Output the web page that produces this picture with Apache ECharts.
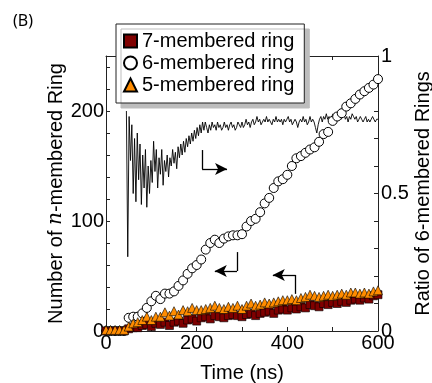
<!DOCTYPE html>
<html>
<head>
<meta charset="utf-8">
<script src="https://cdn.jsdelivr.net/npm/echarts@6/dist/echarts.min.js"></script>
<style>
  html, body { margin: 0; padding: 0; background: #fff; }
  #chart { width: 432px; height: 383px; }
</style>
</head>
<body>
<div id="chart"></div>
<script>
// simulation time (ns) for the ring counts
const times = [0, 10, 20, 30, 40, 50, 60, 70, 80, 90, 100, 110, 120, 130, 140, 150, 160, 170, 180, 190,
  200, 210, 220, 230, 240, 250, 260, 270, 280, 290, 300, 310, 320, 330, 340, 350, 360, 370, 380, 390,
  400, 410, 420, 430, 440, 450, 460, 470, 480, 490, 500, 510, 520, 530, 540, 550, 560, 570, 580, 590, 600];

const ring7 = [0, 0, 0, 0, 0, 2, 3, 3, 5, 6, 4, 7, 6, 8, 5, 8, 9, 7, 10, 11,
  9, 12, 13, 11, 14, 13, 12, 14, 15, 14, 13, 15, 16, 14, 16, 17, 18, 16, 19, 20,
  19, 21, 20, 22, 21, 24, 23, 22, 25, 24, 26, 25, 27, 26, 28, 29, 28, 30, 29, 32, 33];

const ring6 = [0, 0, 0, 0, 0, 12, 13, 13, 16, 21, 27, 32, 29, 34, 34, 36, 41, 46, 52, 57,
  60, 65, 74, 80, 83, 80, 84, 86, 87, 87, 88, 95, 100, 102, 108, 116, 121, 130, 136, 138,
  142, 150, 157, 159, 162, 165, 167, 172, 179, 181, 191, 195, 198, 204, 207, 211, 215, 218, 221, 224, 229];

const ring5 = [1, 1, 1, 1, 1, 4, 7, 8, 10, 13, 10, 13, 13, 17, 14, 18, 15, 19, 18, 21,
  19, 19, 20, 21, 23, 21, 20, 22, 21, 23, 20, 23, 25, 23, 24, 26, 25, 26, 27, 28,
  28, 29, 28, 30, 31, 33, 32, 31, 32, 33, 32, 33, 34, 33, 35, 35, 34, 35, 34, 36, 37];

// ratio of 6-membered rings, sampled every 3 ns from 45 ns
const ratioStart = 45;
const ratioStep = 3;
const ratio6 = [
  0.80, 0.27, 0.78, 0.62, 0.75, 0.50, 0.70, 0.47, 0.72, 0.55, 0.68, 0.46, 0.64, 0.52, 0.66, 0.45,
  0.60, 0.50, 0.62, 0.54, 0.69, 0.58, 0.66, 0.52, 0.63, 0.57, 0.66, 0.53, 0.62, 0.58, 0.64, 0.56,
  0.63, 0.60, 0.66, 0.61, 0.65, 0.59, 0.67, 0.63, 0.68, 0.64, 0.69, 0.65, 0.70, 0.67, 0.71, 0.68,
  0.72, 0.69, 0.73, 0.70, 0.74, 0.71, 0.75, 0.72, 0.76, 0.73, 0.76, 0.74, 0.72, 0.75, 0.73, 0.76,
  0.74, 0.75, 0.73, 0.76, 0.74, 0.75, 0.73, 0.74, 0.76, 0.74, 0.75, 0.73, 0.75, 0.76, 0.74, 0.75,
  0.73, 0.74, 0.76, 0.75, 0.74, 0.76, 0.74, 0.75, 0.77, 0.75, 0.76, 0.74, 0.76, 0.77, 0.75, 0.76,
  0.78, 0.76, 0.77, 0.75, 0.76, 0.77, 0.76, 0.78, 0.76, 0.77, 0.76, 0.75, 0.77, 0.76, 0.78, 0.76,
  0.77, 0.76, 0.77, 0.75, 0.77, 0.76, 0.77, 0.78, 0.76, 0.77, 0.75, 0.76, 0.77, 0.76, 0.74, 0.76,
  0.77, 0.76, 0.78, 0.76, 0.77, 0.75, 0.76, 0.78, 0.76, 0.77, 0.76, 0.74, 0.72, 0.75, 0.77, 0.78,
  0.76, 0.78, 0.77, 0.79, 0.77, 0.78, 0.76, 0.78, 0.79, 0.77, 0.78, 0.77, 0.79, 0.78, 0.77, 0.78,
  0.79, 0.77, 0.78, 0.76, 0.78, 0.77, 0.79, 0.78, 0.77, 0.78, 0.76, 0.77, 0.78, 0.77, 0.76, 0.77,
  0.78, 0.76, 0.77, 0.76, 0.77, 0.78, 0.77, 0.76, 0.77, 0.77];

// annotation arrows in (time, ratio) coordinates: [x, yStart, yCorner, arrow tip x]
const arrows = [
  [212, 0.658, 0.589, 267],
  [289, 0.287, 0.218, 240],
  [417, 0.135, 0.204, 368]
];

const FONT = 'Liberation Sans, Arial, sans-serif';
const pair = (vals) => vals.map((v, i) => [times[i], v]);
const ratioData = ratio6.map((v, i) => [ratioStart + i * ratioStep, v]);

const arrowLines = [];
arrows.forEach(([x, yTop, yBot, tip]) => {
  arrowLines.push([{ coord: [x, yTop], symbol: 'none' }, { coord: [x, yBot], symbol: 'none' }]);
  arrowLines.push([{ coord: [x, yBot], symbol: 'none' }, { coord: [tip, yBot], symbol: 'arrow' }]);
});

const chart = echarts.init(document.getElementById('chart'), null, { renderer: 'canvas' });

const axisLineStyle = { color: '#222', width: 1 };

chart.setOption({
  animation: false,
  backgroundColor: '#fff',
  title: {
    text: '(B)',
    left: 8,
    top: 8,
    textStyle: { fontSize: 16, fontWeight: 'normal', color: '#000', fontFamily: 'Noto Sans, sans-serif' }
  },
  grid: { left: 106, right: 54, top: 56, bottom: 52, outerBoundsMode: 'none', containLabel: false },
  legend: {
    orient: 'vertical',
    left: 116,
    top: 24,
    backgroundColor: '#fff',
    borderColor: '#222',
    borderWidth: 1,
    padding: [7, 10, 8, 7],
    itemGap: 2,
    itemWidth: 13,
    itemHeight: 13,
    shadowColor: '#bdbdbd',
    shadowOffsetX: 5,
    shadowOffsetY: 5,
    shadowBlur: 0,
    textStyle: { fontSize: 20, color: '#000', fontFamily: FONT, padding: [0, 0, 0, 0] },
    data: ['7-membered ring', '6-membered ring', '5-membered ring']
  },
  xAxis: [
    {
      type: 'value',
      min: 0,
      max: 600,
      interval: 100,
      position: 'bottom',
      name: 'Time (ns)',
      nameLocation: 'middle',
      nameGap: 32,
      nameMoveOverlap: false,
      nameTextStyle: { fontSize: 20, color: '#000', fontFamily: FONT },
      axisLine: { show: true, onZero: false, lineStyle: axisLineStyle },
      axisTick: { inside: true, length: 4, lineStyle: axisLineStyle },
      axisLabel: {
        fontSize: 20, color: '#000', fontFamily: FONT, margin: 2,
        formatter: (v) => (v % 200 === 0 ? String(v) : '')
      },
      splitLine: { show: false }
    },
    {
      type: 'value',
      min: 0,
      max: 600,
      interval: 100,
      position: 'top',
      axisLine: { show: true, onZero: false, lineStyle: axisLineStyle },
      axisTick: { inside: true, length: 4, lineStyle: axisLineStyle },
      axisLabel: { show: false },
      splitLine: { show: false }
    }
  ],
  yAxis: [
    {
      type: 'value',
      min: 0,
      max: 250,
      interval: 20,
      position: 'left',
      name: 'Number of {i|n}-membered Ring',
      nameLocation: 'middle',
      nameGap: 40,
      nameMoveOverlap: false,
      nameTextStyle: {
        fontSize: 20, color: '#000', fontFamily: FONT,
        rich: { i: { fontSize: 20, fontStyle: 'italic', fontFamily: 'DejaVu Serif, serif', color: '#000' } }
      },
      axisLine: { show: true, onZero: false, lineStyle: axisLineStyle },
      axisTick: { inside: true, length: 4, lineStyle: axisLineStyle },
      axisLabel: {
        fontSize: 20, color: '#000', fontFamily: FONT, margin: 2,
        formatter: (v) => (v % 100 === 0 ? String(v) : '')
      },
      splitLine: { show: false }
    },
    {
      type: 'value',
      min: 0,
      max: 1,
      interval: 0.1,
      position: 'right',
      name: 'Ratio of 6-membered Rings',
      nameLocation: 'middle',
      nameGap: 35,
      nameMoveOverlap: false,
      nameTextStyle: { fontSize: 20, color: '#000', fontFamily: FONT },
      axisLine: { show: true, onZero: false, lineStyle: axisLineStyle },
      axisTick: { inside: true, length: 4, lineStyle: axisLineStyle },
      axisLabel: {
        fontSize: 20, color: '#000', fontFamily: FONT, margin: 3,
        formatter: (v) => {
          if (Math.abs(v) < 1e-6) return '0';
          if (Math.abs(v - 0.5) < 1e-6) return '0.5';
          if (Math.abs(v - 1) < 1e-6) return '1';
          return '';
        }
      },
      splitLine: { show: false }
    }
  ],
  series: [
    {
      name: 'ratio',
      type: 'line',
      yAxisIndex: 1,
      data: ratioData,
      showSymbol: false,
      symbol: 'none',
      z: 1,
      lineStyle: { color: '#000', width: 0.9 },
      markLine: {
        silent: true,
        symbol: ['none', 'arrow'],
        symbolSize: [9, 12],
        label: { show: false },
        lineStyle: { color: '#000', width: 1.3, type: 'solid' },
        data: arrowLines
      }
    },
    {
      name: '6-membered ring',
      type: 'scatter',
      data: pair(ring6),
      symbol: 'circle',
      symbolSize: 9,
      z: 2,
      itemStyle: { color: '#fff', borderColor: '#000', borderWidth: 1, opacity: 1 }
    },
    {
      name: '7-membered ring',
      type: 'scatter',
      data: pair(ring7),
      symbol: 'rect',
      symbolSize: 8,
      z: 3,
      itemStyle: { color: '#7f0000', borderColor: '#000', borderWidth: 0.6, opacity: 1 }
    },
    {
      name: '5-membered ring',
      type: 'scatter',
      data: pair(ring5),
      symbol: 'triangle',
      symbolSize: 9,
      z: 4,
      itemStyle: { color: '#ff8c00', borderColor: '#000', borderWidth: 0.6, opacity: 1 }
    }
  ]
});
</script>
</body>
</html>
